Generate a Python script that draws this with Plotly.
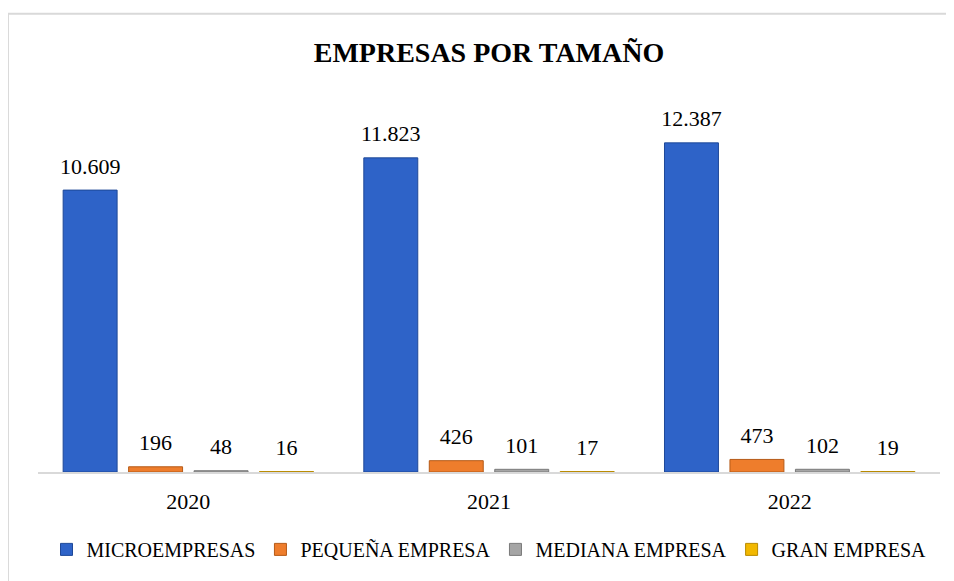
import plotly.graph_objects as go

years = ["2020", "2021", "2022"]
sizes = ["MICROEMPRESAS", "PEQUEÑA EMPRESA", "MEDIANA EMPRESA", "GRAN EMPRESA"]
micro = [10609, 11823, 12387]
pequena = [196, 426, 473]
mediana = [48, 101, 102]
gran = [16, 17, 19]

series = [micro, pequena, mediana, gran]
fills = ["#2E63C8", "#EE7D2C", "#A5A5A5", "#F2B800"]
edges = ["#1E4898", "#B55A17", "#7A7A7A", "#B88A00"]

FONT = "Liberation Serif"

fig = go.Figure()

for name, vals, fc, ec in zip(sizes, series, fills, edges):
    fig.add_trace(go.Bar(
        x=years, y=vals, name=name,
        marker=dict(color=fc, line=dict(color=ec, width=1)),
        hoverinfo="x+y+name",
    ))

# etiquetas de datos, agrupadas igual que las barras
for name, vals in zip(sizes, series):
    fig.add_trace(go.Scatter(
        x=years, y=vals, mode="markers+text",
        text=[f"{v:,}".replace(",", ".") for v in vals],
        textposition="top center",
        textfont=dict(family=FONT, size=22, color="#000000"),
        marker=dict(size=16, opacity=0),
        showlegend=False, hoverinfo="skip", cliponaxis=False,
    ))

# la pagina html tiene 8px de margen en el body
fig.update_layout(
    width=946, height=573,
    margin=dict(l=30, r=14, t=92, b=106),
    paper_bgcolor="white",
    plot_bgcolor="white",
    font=dict(family=FONT, color="#000000"),
    title=dict(
        text="<b>EMPRESAS POR TAMAÑO</b>",
        font=dict(family=FONT, size=28, color="#000000"),
        x=0.5, xref="paper", xanchor="center",
        y=1 - 44 / 573, yref="container", yanchor="middle",
    ),
    barmode="group",
    scattermode="group",
    bargap=0.129,
    bargroupgap=0.176,
    scattergap=0.129,
    showlegend=True,
    legend=dict(
        orientation="h",
        x=0.5, xanchor="center",
        y=-0.208, yanchor="middle",
        font=dict(family=FONT, size=20, color="#000000"),
        itemwidth=30,
        traceorder="normal",
    ),
    xaxis=dict(
        showline=True, linecolor="#D9D9D9", linewidth=2,
        showgrid=False, zeroline=False,
        ticks="outside", ticklen=9, tickcolor="rgba(0,0,0,0)",
        tickfont=dict(family=FONT, size=22, color="#000000"),
    ),
    yaxis=dict(
        range=[0, 14000], visible=False, showgrid=False, zeroline=False,
    ),
    shapes=[dict(
        type="rect", xref="paper", yref="paper",
        x0=-0.0333, x1=1.05, y0=-0.4, y1=1.232,
        line=dict(color="#D9D9D9", width=2), fillcolor="rgba(0,0,0,0)",
        layer="below",
    )],
)

fig.write_html("out.html")
